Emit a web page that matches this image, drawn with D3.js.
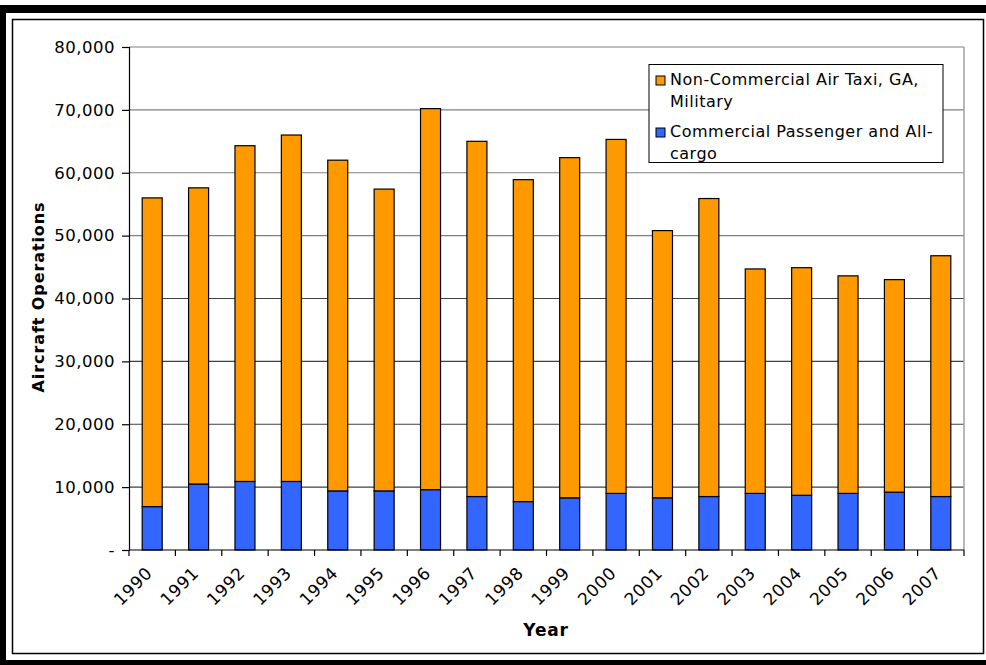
<!DOCTYPE html>
<html><head><meta charset="utf-8">
<script src="https://cdn.jsdelivr.net/npm/d3@7"></script>
<style>body{margin:0;background:#fff}svg{display:block}text{font-family:"DejaVu Sans",Verdana,sans-serif}</style>
</head><body>
<script>
const years = ["1990","1991","1992","1993","1994","1995","1996","1997","1998","1999","2000","2001","2002","2003","2004","2005","2006","2007"];
const commercial = [6900,10500,10900,10900,9400,9400,9600,8500,7700,8300,9000,8300,8500,9000,8700,9000,9200,8500];
const nonCommercial = [49100,47100,53400,55100,52600,48000,60600,56500,51200,54100,56300,42500,47400,35700,36200,34600,33800,38300];
const yTicks = [0,10000,20000,30000,40000,50000,60000,70000,80000];
const seriesNames = ["Commercial Passenger and All-cargo","Non-Commercial Air Taxi, GA, Military"];
const colors = ["#3366FF","#FF9900"];

const W=986,H=665;
const svg=d3.select("body").append("svg").attr("width",W).attr("height",H);
// outer frame
svg.append("rect").attr("x",0).attr("y",5).attr("width",W).attr("height",8).attr("fill","#000");
svg.append("rect").attr("x",0).attr("y",5).attr("width",6).attr("height",H-5).attr("fill","#000");
svg.append("rect").attr("x",0).attr("y",660).attr("width",W).attr("height",5).attr("fill","#000");
svg.append("rect").attr("x",12.5).attr("y",19.5).attr("width",971).attr("height",634).attr("fill","none").attr("stroke","#000").attr("stroke-width",1.5);

const m={l:129,r:964,t:47,b:550};
const x=d3.scaleBand().domain(years).range([m.l,m.r]).paddingInner(0);
const y=d3.scaleLinear().domain([0,80000]).range([m.b,m.t]);
const barW=20;

// gridlines
svg.append("g").selectAll("line").data(yTicks.filter(d=>d>0)).join("line")
 .attr("x1",m.l).attr("x2",m.r).attr("y1",d=>y(d)).attr("y2",d=>y(d))
 .attr("stroke",d=>d>=50000?"#808080":"#404040").attr("stroke-width",1.2);
// plot border right
svg.append("line").attr("x1",m.r).attr("x2",m.r).attr("y1",m.t).attr("y2",m.b).attr("stroke","#a0a0a0").attr("stroke-width",1.5);

// stacked bars
const data=years.map((yr,i)=>({year:yr,commercial:commercial[i],nonCommercial:nonCommercial[i]}));
const stack=d3.stack().keys(["commercial","nonCommercial"])(data);
svg.append("g").selectAll("g").data(stack).join("g").attr("fill",(d,i)=>colors[i])
 .selectAll("rect").data(d=>d).join("rect")
 .attr("x",d=>x(d.data.year)+x.bandwidth()/2-barW/2).attr("width",barW)
 .attr("y",d=>y(d[1])).attr("height",d=>y(d[0])-y(d[1]))
 .attr("stroke","#000").attr("stroke-width",1.2);

// y axis
const fmt=d=>d===0?"-":d3.format(",")(d);
const ya=svg.append("g").attr("transform",`translate(${m.l},0)`)
 .call(d3.axisLeft(y).tickValues(yTicks).tickFormat(fmt).tickSize(7).tickPadding(7));
ya.select(".domain").attr("stroke","#000").attr("stroke-width",1.2);
ya.selectAll(".tick line").attr("stroke","#000").attr("stroke-width",1.2);
ya.selectAll("text").attr("font-size",16.5).attr("letter-spacing",0.5).attr("fill","#000").style("font-family","DejaVu Sans");

// x axis
const xa=svg.append("g").attr("transform",`translate(0,${m.b})`);
xa.append("line").attr("x1",m.l).attr("x2",m.r).attr("y1",0).attr("y2",0).attr("stroke","#000").attr("stroke-width",1.2);
xa.selectAll("line.t").data(years.concat(["end"])).join("line").attr("class","t")
 .attr("x1",(d,i)=>m.l+i*x.bandwidth()).attr("x2",(d,i)=>m.l+i*x.bandwidth())
 .attr("y1",0).attr("y2",6).attr("stroke","#000").attr("stroke-width",1.2);
xa.selectAll("text").data(years).join("text")
 .attr("transform",d=>`translate(${x(d)+x.bandwidth()/2-3},${20}) rotate(-45)`)
 .attr("text-anchor","end").attr("dy","0.35em").attr("font-size",17).attr("letter-spacing",0.6).attr("fill","#000").text(d=>d);

// axis titles
svg.append("text").attr("transform","translate(44,297) rotate(-90)").attr("text-anchor","middle")
 .attr("font-size",16).attr("letter-spacing",0.9).attr("font-weight","bold").text("Aircraft Operations");
svg.append("text").attr("x",546).attr("y",636).attr("text-anchor","middle")
 .attr("font-size",17).attr("letter-spacing",0.8).attr("font-weight","bold").text("Year");

// legend
const lg=svg.append("g");
lg.append("rect").attr("x",649).attr("y",64.5).attr("width",294).attr("height",98).attr("fill","#fff").attr("stroke","#000").attr("stroke-width",1);
const legendItems=[{c:colors[1],lines:["Non-Commercial Air Taxi, GA,","Military"],y:85},{c:colors[0],lines:["Commercial Passenger and All-","cargo"],y:137}];
legendItems.forEach(it=>{
 lg.append("rect").attr("x",656).attr("y",it.y-9).attr("width",9).attr("height",9).attr("fill",it.c).attr("stroke","#000").attr("stroke-width",1);
 it.lines.forEach((t,j)=>lg.append("text").attr("x",670).attr("y",it.y+j*22).attr("font-size",16).attr("letter-spacing",0.5).attr("fill","#000").text(t));
});
</script>
</body></html>
